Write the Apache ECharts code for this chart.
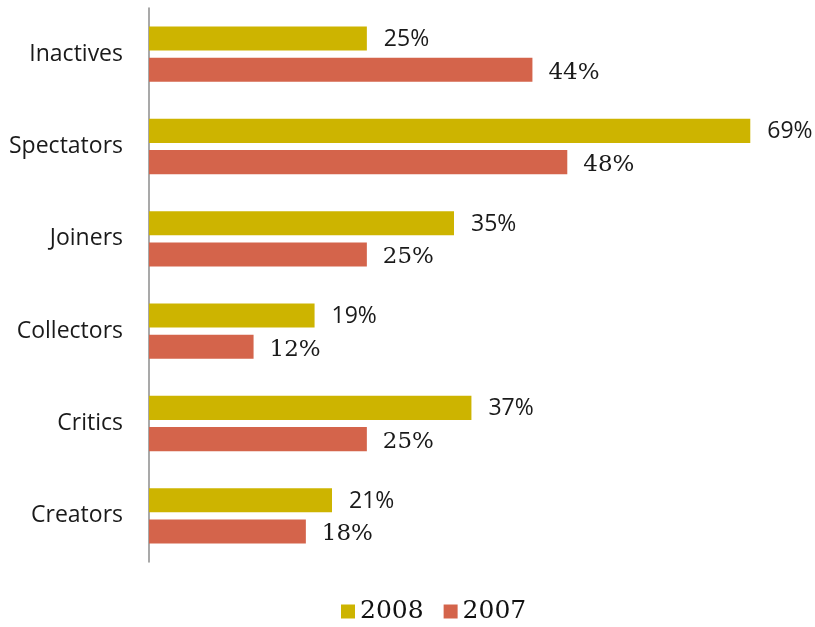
<!DOCTYPE html>
<html><head><meta charset="utf-8">
<script src="https://cdn.jsdelivr.net/npm/echarts@6/dist/echarts.min.js"></script>
<style>html,body{margin:0;padding:0;background:#fff}#c{width:815px;height:627px}</style>
</head><body><div id="c"></div>
<script>
const categories = ['Inactives','Spectators','Joiners','Collectors','Critics','Creators'];
const values2008 = [25, 69, 35, 19, 37, 21];
const values2007 = [44, 48, 25, 12, 25, 18];
const seriesNames = ['2008', '2007'];

const chart = echarts.init(document.getElementById('c'), null, {renderer: 'canvas'});
chart.setOption({
  animation: false,
  legend: {
    top: 599, left: 341, padding: 0,
    itemWidth: 14, itemHeight: 14, itemGap: 20,
    icon: 'rect',
    textStyle: {fontFamily: 'DejaVu Serif', fontSize: 25, color: '#111'},
    data: seriesNames
  },
  grid: {left: 149, top: 8, bottom: 65, right: 56, containLabel: false},
  xAxis: {type: 'value', min: 0, max: 70, show: false},
  yAxis: {
    type: 'category', data: categories, inverse: true,
    axisLine: {lineStyle: {color: '#8c8c8c', width: 1.5}},
    axisTick: {show: false},
    axisLabel: {margin: 26, fontFamily: 'Open Sans', fontSize: 23, color: '#1a1a1a'}
  },
  series: [
    {name: seriesNames[0], type: 'bar', data: values2008, barGap: '30%', barCategoryGap: '40%',
     itemStyle: {color: '#CDB400'},
     label: {show: true, position: 'right', distance: 17, formatter: '{c}%',
       fontFamily: 'Open Sans', fontSize: 23, color: '#1a1a1a', offset: [0, 1]}},
    {name: seriesNames[1], type: 'bar', data: values2007, barGap: '30%', barCategoryGap: '40%',
     itemStyle: {color: '#D4644B'},
     label: {show: true, position: 'right', distance: 16, formatter: '{c}%',
       fontFamily: 'DejaVu Serif', fontSize: 23, color: '#1a1a1a', offset: [0, 3]}}
  ]
});
</script></body></html>
